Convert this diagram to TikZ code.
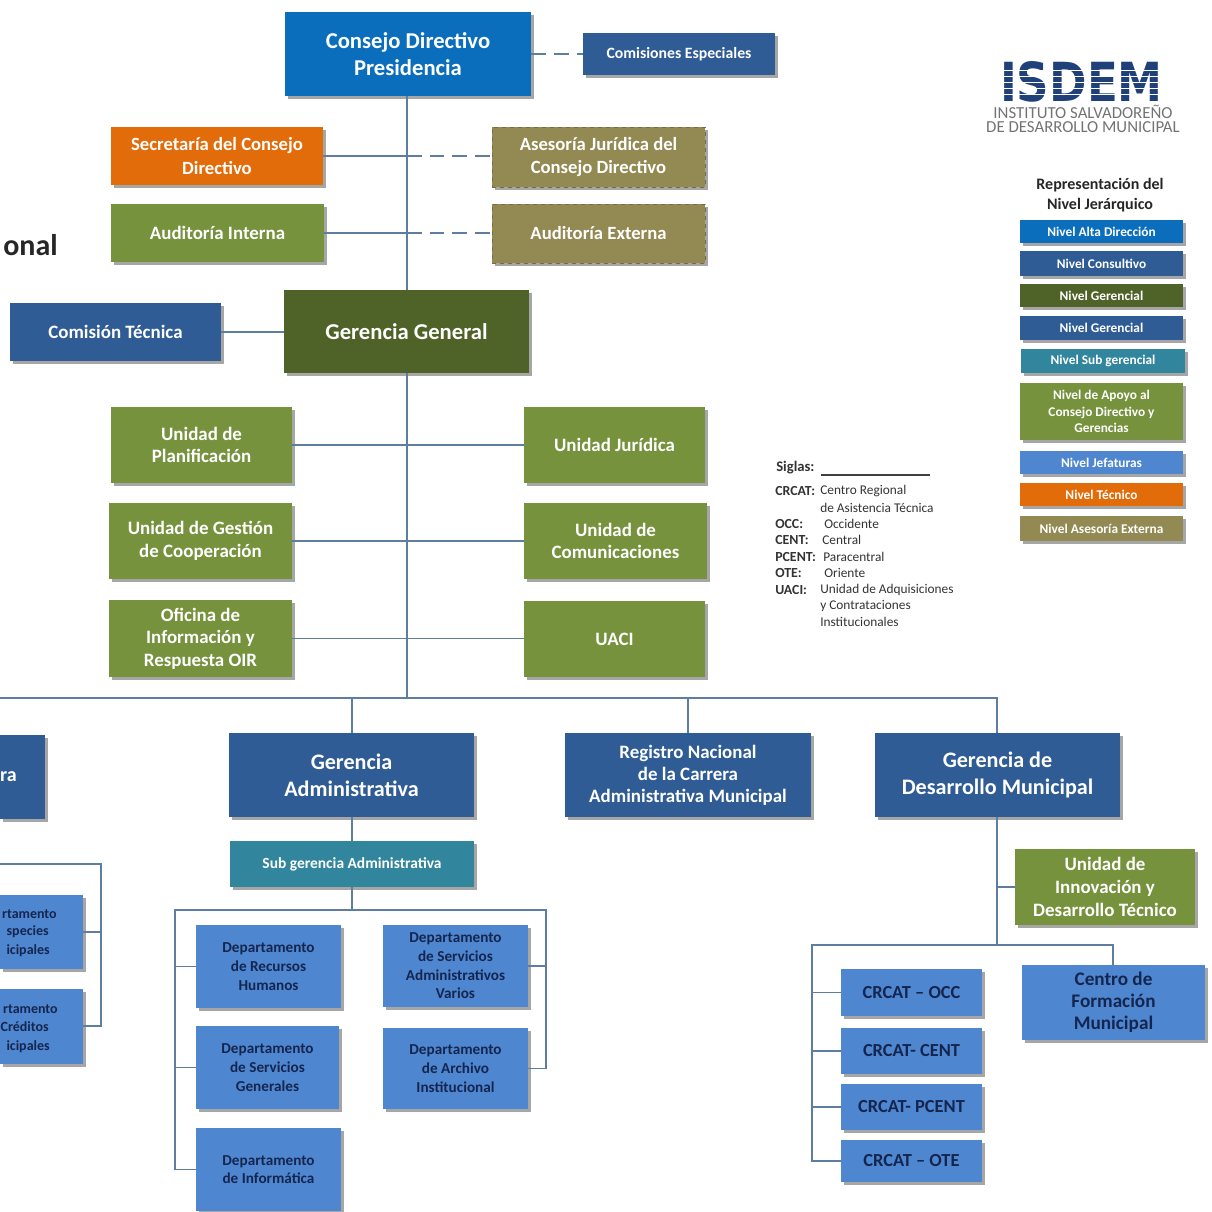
\documentclass[tikz,border=0pt]{standalone}
\usepackage{fontspec}
\setmainfont{Carlito}
\newfontfamily\logofont{DejaVu Sans}[BoldFont={DejaVu Sans Bold}]
\usetikzlibrary{shadows}
\definecolor{cTop}{HTML}{0A6EBD}
\definecolor{cBlue}{HTML}{2F5C95}
\definecolor{cOrange}{HTML}{E36C0A}
\definecolor{cOlive}{HTML}{938953}
\definecolor{cGreen}{HTML}{76923C}
\definecolor{cDark}{HTML}{4F6228}
\definecolor{cTeal}{HTML}{31859C}
\definecolor{cLight}{HTML}{4F86D0}
\definecolor{cLine}{HTML}{5F7D9F}
\definecolor{cNavy}{HTML}{14264F}
\definecolor{cLogo}{HTML}{1F4078}
\newcommand{\fs}[2]{\fontsize{#1}{#2}\selectfont}
\tikzset{
  box/.style={inner sep=0pt,align=center,text=white,font=\fs{14.2}{17}\bfseries,
    drop shadow={shadow xshift=2.5pt,shadow yshift=-2.5pt,opacity=.35,fill=black}},
  top/.style={box,fill=cTop,font=\fs{17}{20.5}\bfseries},
  blue/.style={box,fill=cBlue},
  orange/.style={box,fill=cOrange,font=\fs{14}{17.5}\bfseries},
  olive/.style={box,fill=cOlive,draw=cOlive!80!black,dashed,font=\fs{14}{17.5}\bfseries},
  green/.style={box,fill=cGreen,font=\fs{14.2}{17}\bfseries},
  dark/.style={box,fill=cDark,font=\fs{17}{20}\bfseries},
  gerencia/.style={box,fill=cBlue,font=\fs{16.6}{20.5}\bfseries},
  teal/.style={box,fill=cTeal,font=\fs{11.6}{12}\bfseries},
  dept/.style={box,fill=cLight,text=cNavy,font=\fs{11.4}{14}\bfseries},
  crcat/.style={box,fill=cLight,text=cNavy,font=\fs{13.8}{15}\bfseries},
  centro/.style={box,fill=cLight,text=cNavy,font=\fs{14.4}{16.5}\bfseries},
  leg/.style={font=\fs{10}{12.5}\bfseries},
  conn/.style={draw=cLine,line width=1.1pt},
  dconn/.style={draw=cLine,line width=1.1pt,dash pattern=on 11pt off 6pt},
  sig/.style={inner sep=0pt,anchor=west,text=black!80,font=\fs{10}{10}},
  sigb/.style={sig,font=\fs{10.4}{10}\bfseries},
  frag/.style={inner sep=0pt,anchor=east,text=cNavy,font=\fs{10.5}{14}\bfseries},
}
% \bx{name}{style}{x1}{y1}{x2}{y2}{text}
\newcommand{\bx}[7]{%
  \pgfmathsetmacro{\bxw}{(#5-#3)*.75}%
  \pgfmathsetmacro{\bxh}{(#6-#4)*.75}%
  \node[#2,minimum width=\bxw pt,minimum height=\bxh pt] (#1) at ({(#3+#5)/2},{(#4+#6)/2}) {#7};%
}
\begin{document}
\begin{tikzpicture}[x=.75pt,y=-.75pt]
\useasboundingbox (0,0) rectangle (1212,1211);
% junction coordinates
\coordinate (jMain) at (407,698);
\coordinate (jLeft) at (0,698);
\coordinate (jAdmin) at (352,698);
\coordinate (jReg) at (688,698);
\coordinate (jDes) at (997,698);
\coordinate (jTop) at (352,910);
\coordinate (bL) at (175,910);
\coordinate (bR) at (546,910);
\coordinate (dA) at (997,887);
\coordinate (dB) at (997,945);
\coordinate (dL) at (812,945);
\coordinate (dR) at (1113,945);
\coordinate (fA) at (0,864);
\coordinate (fB) at (101,864);
\coordinate (fC) at (101,1026);
% boxes
\bx{consejo}{top}{285}{12}{531}{96}{Consejo Directivo\\Presidencia}
\bx{comis}{blue,font=\fs{11.8}{13}\bfseries}{583}{33}{775}{75}{\raisebox{-2pt}{Comisiones Especiales}}
\bx{secre}{orange}{111}{127}{323}{185}{Secretaría del Consejo\\Directivo}
\bx{aseso}{olive}{492}{127}{705}{187}{Asesoría Jurídica del\\Consejo Directivo}
\bx{audi}{green}{111}{204}{324}{262}{Auditoría Interna}
\bx{audx}{olive}{492}{204}{705}{263}{Auditoría Externa}
\bx{ctec}{blue}{10}{303}{221}{361}{Comisión Técnica}
\bx{gg}{dark}{284}{290}{529}{373}{Gerencia General}
\bx{plan}{green}{111}{407}{292}{483}{Unidad de\\Planificación}
\bx{juri}{green}{524}{407}{705}{483}{Unidad Jurídica}
\bx{gest}{green}{109}{503}{292}{579}{Unidad de Gestión\\de Cooperación}
\bx{comu}{green}{524}{503}{707}{579}{Unidad de\\Comunicaciones}
\bx{oir}{green}{109}{600}{292}{677}{Oficina de\\Información y\\Respuesta OIR}
\bx{uaci}{green}{524}{601}{705}{677}{UACI}
\bx{gfin}{gerencia}{0}{735}{45}{819}{\hspace*{2pt}}
\node[inner sep=0pt,text=white,font=\fs{15}{20}\bfseries,anchor=east] (gfint) at (17,777) {ra};
\bx{gadm}{gerencia}{229}{733}{474}{817}{Gerencia\\Administrativa}
\bx{reg}{gerencia,font=\fs{14.2}{16.5}\bfseries}{565}{733}{811}{817}{Registro Nacional\\de la Carrera\\Administrativa Municipal}
\bx{gdes}{gerencia}{875}{733}{1120}{817}{Gerencia de\\Desarrollo Municipal}
\bx{sub}{teal}{230}{841}{474}{887}{\raisebox{-2pt}{Sub gerencia Administrativa}}
\bx{rrhh}{dept}{196}{925}{341}{1008}{Departamento\\de Recursos\\Humanos}
\bx{serv}{dept}{383}{925}{528}{1007}{Departamento\\de Servicios\\Administrativos\\Varios}
\bx{gene}{dept}{196}{1026}{339}{1109}{Departamento\\de Servicios\\Generales}
\bx{arch}{dept}{383}{1028}{528}{1109}{Departamento\\de Archivo\\Institucional}
\bx{info}{dept}{196}{1128}{341}{1211}{Departamento\\de Informática}
\bx{espe}{dept}{0}{895}{83}{969}{\hspace*{1pt}}
\bx{cred}{dept}{0}{989}{83}{1064}{\hspace*{1pt}}
\node[frag] (e1) at (57,914) {rtamento};
\node[frag] (e2) at (49,932) {species};
\node[frag] (e3) at (50,951) {icipales};
\node[frag] (c1) at (58,1009) {rtamento};
\node[frag] (c2) at (49,1027) {Créditos};
\node[frag] (c3) at (50,1047) {icipales};
\bx{inno}{green}{1015}{849}{1195}{925}{Unidad de\\Innovación y\\Desarrollo Técnico}
\bx{centro}{centro}{1022}{965}{1205}{1040}{Centro de\\Formación\\Municipal}
\bx{occ}{crcat}{841}{969}{982}{1016}{CRCAT – OCC}
\bx{cent}{crcat}{841}{1028}{982}{1074}{CRCAT- CENT}
\bx{pcent}{crcat}{841}{1084}{982}{1130}{CRCAT- PCENT}
\bx{ote}{crcat}{841}{1140}{982}{1182}{CRCAT – OTE}
% connectors
\draw[conn] (consejo.south -| jMain) -- (gg.north -| jMain);
\draw[conn] (gg.south -| jMain) -- (jMain);
\draw[dconn] (consejo.east) -- (comis.west |- consejo.east);
\draw[conn] (secre.east) -- (secre.east -| jMain);
\draw[dconn] (secre.east -| jMain) -- (secre.east -| aseso.west);
\draw[conn] (audi.east) -- (audi.east -| jMain);
\draw[dconn] (audi.east -| jMain) -- (audi.east -| audx.west);
\draw[conn] (ctec.east) -- (gg.west |- ctec.east);
\draw[conn] (plan.east) -- (plan.east -| juri.west);
\draw[conn] (gest.east) -- (gest.east -| comu.west);
\draw[conn] (oir.east) -- (oir.east -| uaci.west);
\draw[conn] (jLeft) -- (jDes) -- (gdes.north -| jDes);
\draw[conn] (jAdmin) -- (gadm.north -| jAdmin);
\draw[conn] (jReg) -- (reg.north -| jReg);
\draw[conn] (gadm.south -| jAdmin) -- (sub.north -| jAdmin);
\draw[conn] (sub.south -| jAdmin) -- (jTop);
\draw[conn] (info.west) -- (info.west -| bL) -- (bL) -- (bR) -- (arch.east -| bR) -- (arch.east);
\draw[conn] (rrhh.west) -- (rrhh.west -| bL);
\draw[conn] (gene.west) -- (gene.west -| bL);
\draw[conn] (serv.east) -- (serv.east -| bR);
\draw[conn] (fA) -- (fB) -- (fC) -- (cred.east |- fC);
\draw[conn] (espe.east) -- (espe.east -| fB);
\draw[conn] (gdes.south -| dA) -- (dB);
\draw[conn] (dA) -- (inno.west |- dA);
\draw[conn] (ote.west) -- (ote.west -| dL) -- (dL) -- (dR) -- (centro.north -| dR);
\draw[conn] (occ.west) -- (occ.west -| dL);
\draw[conn] (cent.west) -- (cent.west -| dL);
\draw[conn] (pcent.west) -- (pcent.west -| dL);
% left title fragment
\node[inner sep=0pt,anchor=east,text=black!85,font=\fs{22.5}{24}\bfseries] (tit) at (58,245) {onal};
% logo
\node[inner sep=0pt,text=cLogo] (logo) at (1081.5,82) {\resizebox{122pt}{30pt}{\logofont\bfseries ISDEM}};
\foreach \yy in {70,76,82,88,94} \fill[white] (995,\yy) rectangle (1168,{\yy+1.3});
\node[inner sep=0pt,align=center,text=black!55,font=\fs{12.6}{10.5}] (lg) at (1083,118.5) {INSTITUTO SALVADOREÑO\\DE DESARROLLO MUNICIPAL};
% legend
\node[inner sep=0pt,align=center,text=black!85,font=\fs{12}{14.5}\bfseries] (legt) at (1100,195) {Representación del\\Nivel Jerárquico};
\bx{l1}{top,leg}{1020}{220}{1183}{243}{Nivel Alta Dirección}
\bx{l2}{blue,leg}{1020}{251}{1183}{276}{Nivel Consultivo}
\bx{l3}{dark,leg}{1020}{284}{1183}{307}{Nivel Gerencial}
\bx{l4}{blue,leg}{1020}{316}{1183}{340}{Nivel Gerencial}
\bx{l5}{teal,leg}{1021}{349}{1185}{373}{Nivel Sub gerencial}
\bx{l6}{green,leg}{1020}{383}{1183}{440}{Nivel de Apoyo al\\Consejo Directivo y\\Gerencias}
\bx{l7}{box,fill=cLight,leg}{1020}{451}{1183}{474}{Nivel Jefaturas}
\bx{l8}{orange,leg}{1020}{483}{1183}{506}{Nivel Técnico}
\bx{l9}{box,fill=cOlive,leg}{1020}{516}{1183}{541}{Nivel Asesoría Externa}
% siglas
\node[sigb,font=\fs{11}{12}\bfseries] (s0) at (776,468) {Siglas:};
\coordinate (sigA) at (821,475);
\coordinate (sigB) at (930,475);
\draw[black!75,line width=.9pt] (sigA) -- (sigB);
\node[sigb] (s1) at (775,491) {CRCAT:};
\node[sig] (s1b) at (820,491) {Centro Regional};
\node[sig] (s1c) at (820,507.5) {de Asistencia Técnica};
\node[sigb] (s2) at (775,524) {OCC:};
\node[sig] (s2b) at (824,524) {Occidente};
\node[sigb] (s3) at (775,540) {CENT:};
\node[sig] (s3b) at (822,540) {Central};
\node[sigb] (s4) at (775,557) {PCENT:};
\node[sig] (s4b) at (823,557) {Paracentral};
\node[sigb] (s5) at (775,573) {OTE:};
\node[sig] (s5b) at (824,573) {Oriente};
\node[sigb] (s6) at (775,590) {UACI:};
\node[sig] (s6b) at (820,590) {Unidad de Adquisiciones};
\node[sig] (s6c) at (820,606) {y Contrataciones};
\node[sig] (s6d) at (820,622) {Institucionales};
\end{tikzpicture}
\end{document}
